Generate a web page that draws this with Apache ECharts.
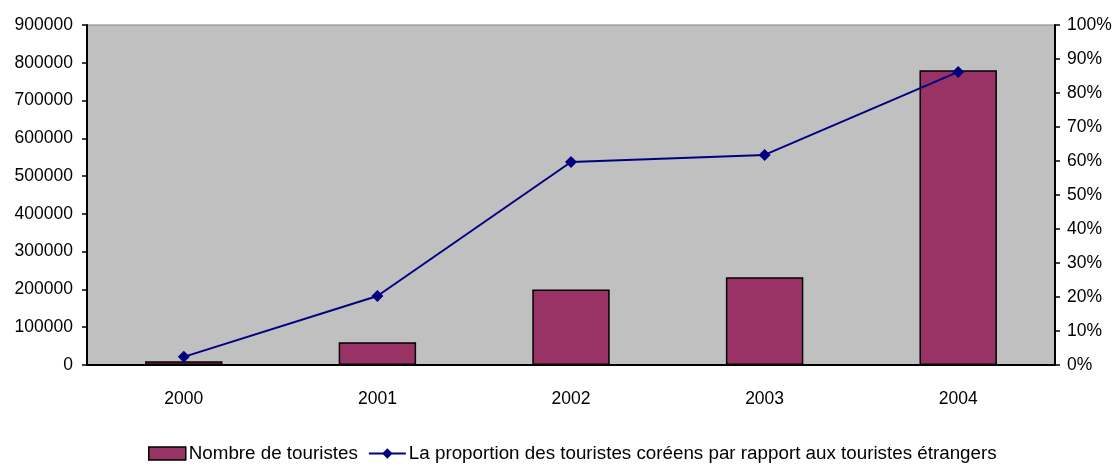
<!DOCTYPE html>
<html>
<head>
<meta charset="utf-8">
<script src="https://cdn.jsdelivr.net/npm/echarts@6/dist/echarts.min.js"></script>
<style>
  html, body { margin: 0; padding: 0; background: #fff; }
  #chart { width: 1116px; height: 468px; }
</style>
</head>
<body>
<div id="chart"></div>
<script>
// data
const years = ['2000', '2001', '2002', '2003', '2004'];
const tourists = [10000, 60000, 200000, 232000, 780000];
const proportion = [2.4, 20.3, 59.7, 61.8, 86.2];

const barName = 'Nombre de touristes';
const lineName = 'La proportion des touristes coréens par rapport aux touristes étrangers';

const font = 'Liberation Sans, Arial, sans-serif';

const chart = echarts.init(document.getElementById('chart'));

const option = {
    animation: false,
    textStyle: { fontFamily: font },
    grid: {
        left: 87,
        right: 61,
        top: 25,
        bottom: 103,
        show: true,
        backgroundColor: '#c0c0c0',
        borderColor: '#808080',
        borderWidth: 1
    },
    legend: {
        bottom: 0,
        left: 143,
        itemGap: 10,
        textStyle: { fontFamily: font, fontSize: 18.8, color: '#000', padding: [0, 0, 0, -2] },
        data: [
            {
                name: barName,
                icon: 'rect',
                itemStyle: { color: '#993366', borderColor: '#000', borderWidth: 1.5 }
            },
            { name: lineName }
        ],
        itemWidth: 37,
        itemHeight: 13
    },
    xAxis: {
        type: 'category',
        data: years,
        axisLine: { lineStyle: { color: '#000', width: 2 } },
        axisTick: { show: false },
        axisLabel: { color: '#000', fontSize: 17.5, margin: 25, fontFamily: font }
    },
    yAxis: [
        {
            type: 'value',
            min: 0,
            max: 900000,
            interval: 100000,
            splitLine: { show: false },
            axisLine: { show: true, lineStyle: { color: '#000', width: 2 } },
            axisTick: { show: true, length: 5, lineStyle: { color: '#000', width: 1.5 } },
            axisLabel: {
                color: '#000',
                fontSize: 17.5,
                margin: 14,
                fontFamily: font,
                formatter: v => String(v)
            }
        },
        {
            type: 'value',
            min: 0,
            max: 100,
            interval: 10,
            position: 'right',
            splitLine: { show: false },
            axisLine: { show: true, lineStyle: { color: '#000', width: 2 } },
            axisTick: { show: true, length: 5, lineStyle: { color: '#000', width: 1.5 } },
            axisLabel: {
                color: '#000',
                fontSize: 17.5,
                margin: 12,
                fontFamily: font,
                formatter: v => v + '%'
            }
        }
    ],
    series: [
        {
            name: barName,
            type: 'bar',
            data: tourists,
            barWidth: '40%',
            itemStyle: { color: '#993366', borderColor: '#000', borderWidth: 1.5 }
        },
        {
            name: lineName,
            type: 'line',
            yAxisIndex: 1,
            data: proportion,
            symbol: 'diamond',
            symbolSize: 12,
            color: '#000080',
            lineStyle: { color: '#000080', width: 2 },
            itemStyle: { color: '#000080' }
        }
    ]
};

chart.setOption(option);
</script>
</body>
</html>
